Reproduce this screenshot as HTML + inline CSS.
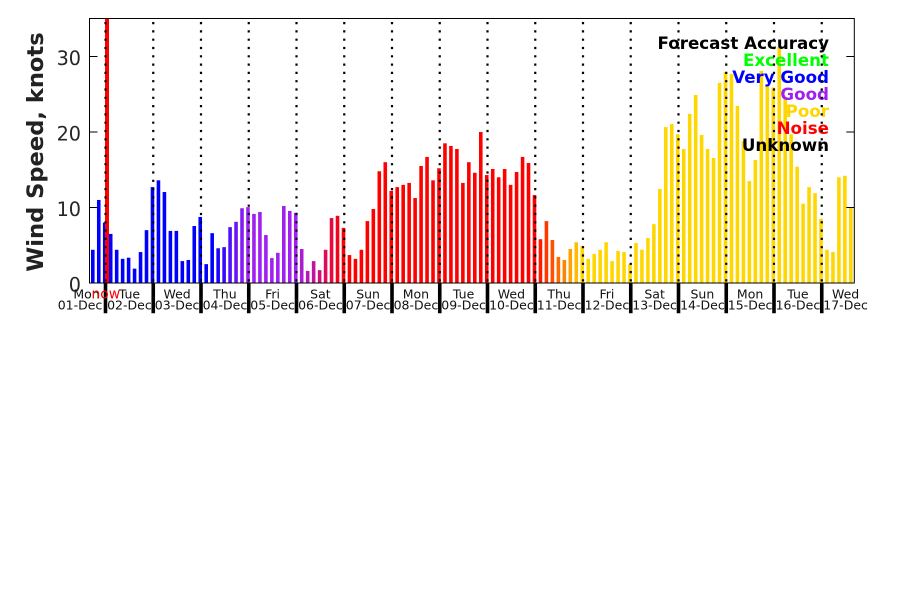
<!DOCTYPE html>
<html><head><meta charset="utf-8"><style>
html,body{margin:0;padding:0;background:#fff;}
svg{display:block;}
text{font-family:"DejaVu Sans","Liberation Sans",sans-serif;}
</style></head><body>
<svg width="900" height="600" viewBox="0 0 900 600" xmlns="http://www.w3.org/2000/svg">
<rect x="0" y="0" width="900" height="600" fill="#fff"/>
<g transform="translate(91,283) scale(5.969,-7.55)">
<g fill="#0000ff">
<rect x="0" y="0" width="0.6" height="4.4"/><rect x="1" y="0" width="0.6" height="11.0"/><rect x="2" y="0" width="0.6" height="8.0"/><rect x="3" y="0" width="0.6" height="6.5"/><rect x="4" y="0" width="0.6" height="4.4"/><rect x="5" y="0" width="0.6" height="3.2"/><rect x="6" y="0" width="0.6" height="3.35"/><rect x="7" y="0" width="0.6" height="1.9"/><rect x="8" y="0" width="0.6" height="4.1"/><rect x="9" y="0" width="0.6" height="7.0"/><rect x="10" y="0" width="0.6" height="12.7"/><rect x="11" y="0" width="0.6" height="13.6"/><rect x="12" y="0" width="0.6" height="12.05"/><rect x="13" y="0" width="0.6" height="6.9"/><rect x="14" y="0" width="0.6" height="6.9"/><rect x="15" y="0" width="0.6" height="2.9"/><rect x="16" y="0" width="0.6" height="3.05"/><rect x="17" y="0" width="0.6" height="7.55"/><rect x="18" y="0" width="0.6" height="8.75"/><rect x="19" y="0" width="0.6" height="2.5"/><rect x="20" y="0" width="0.6" height="6.6"/>
</g>
<rect x="21" y="0" width="0.6" height="4.6" fill="#1b05fc"/>
<rect x="22" y="0" width="0.6" height="4.75" fill="#350bfa"/>
<rect x="23" y="0" width="0.6" height="7.4" fill="#5010f8"/>
<rect x="24" y="0" width="0.6" height="8.1" fill="#6b15f5"/>
<rect x="25" y="0" width="0.6" height="9.9" fill="#851bf3"/>
<g fill="#a020f0">
<rect x="26" y="0" width="0.6" height="10.05"/><rect x="27" y="0" width="0.6" height="9.15"/><rect x="28" y="0" width="0.6" height="9.4"/><rect x="29" y="0" width="0.6" height="6.35"/><rect x="30" y="0" width="0.6" height="3.3"/><rect x="31" y="0" width="0.6" height="4.0"/><rect x="32" y="0" width="0.6" height="10.2"/><rect x="33" y="0" width="0.6" height="9.55"/><rect x="34" y="0" width="0.6" height="9.3"/>
</g>
<rect x="35" y="0" width="0.6" height="4.5" fill="#ac1cd2"/>
<rect x="36" y="0" width="0.6" height="1.6" fill="#b818b4"/>
<rect x="37" y="0" width="0.6" height="2.9" fill="#c41496"/>
<rect x="38" y="0" width="0.6" height="1.7" fill="#d01078"/>
<rect x="39" y="0" width="0.6" height="4.4" fill="#db0c5a"/>
<rect x="40" y="0" width="0.6" height="8.6" fill="#e7083c"/>
<rect x="41" y="0" width="0.6" height="8.9" fill="#f3041e"/>
<g fill="#ff0000">
<rect x="42" y="0" width="0.6" height="7.3"/><rect x="43" y="0" width="0.6" height="3.7"/><rect x="44" y="0" width="0.6" height="3.2"/><rect x="45" y="0" width="0.6" height="4.4"/><rect x="46" y="0" width="0.6" height="8.2"/><rect x="47" y="0" width="0.6" height="9.8"/><rect x="48" y="0" width="0.6" height="14.8"/><rect x="49" y="0" width="0.6" height="16.0"/><rect x="50" y="0" width="0.6" height="12.2"/><rect x="51" y="0" width="0.6" height="12.7"/><rect x="52" y="0" width="0.6" height="13.0"/><rect x="53" y="0" width="0.6" height="13.25"/><rect x="54" y="0" width="0.6" height="11.25"/><rect x="55" y="0" width="0.6" height="15.5"/><rect x="56" y="0" width="0.6" height="16.7"/><rect x="57" y="0" width="0.6" height="13.6"/><rect x="58" y="0" width="0.6" height="15.2"/><rect x="59" y="0" width="0.6" height="18.5"/><rect x="60" y="0" width="0.6" height="18.15"/><rect x="61" y="0" width="0.6" height="17.75"/><rect x="62" y="0" width="0.6" height="13.25"/><rect x="63" y="0" width="0.6" height="16.0"/><rect x="64" y="0" width="0.6" height="14.6"/><rect x="65" y="0" width="0.6" height="20.0"/><rect x="66" y="0" width="0.6" height="14.3"/><rect x="67" y="0" width="0.6" height="15.1"/><rect x="68" y="0" width="0.6" height="14.0"/><rect x="69" y="0" width="0.6" height="15.1"/><rect x="70" y="0" width="0.6" height="13.0"/><rect x="71" y="0" width="0.6" height="14.7"/><rect x="72" y="0" width="0.6" height="16.7"/><rect x="73" y="0" width="0.6" height="15.9"/><rect x="74" y="0" width="0.6" height="11.65"/>
</g>
<rect x="75" y="0" width="0.6" height="5.8" fill="#ff1b00"/>
<rect x="76" y="0" width="0.6" height="8.2" fill="#ff3600"/>
<rect x="77" y="0" width="0.6" height="5.7" fill="#ff5100"/>
<rect x="78" y="0" width="0.6" height="3.45" fill="#ff6c00"/>
<rect x="79" y="0" width="0.6" height="3.05" fill="#ff8600"/>
<rect x="80" y="0" width="0.6" height="4.5" fill="#ffa100"/>
<rect x="81" y="0" width="0.6" height="5.4" fill="#ffbc00"/>
<g fill="#ffd700">
<rect x="82" y="0" width="0.6" height="4.9"/><rect x="83" y="0" width="0.6" height="3.2"/><rect x="84" y="0" width="0.6" height="3.85"/><rect x="85" y="0" width="0.6" height="4.4"/><rect x="86" y="0" width="0.6" height="5.4"/><rect x="87" y="0" width="0.6" height="2.9"/><rect x="88" y="0" width="0.6" height="4.25"/><rect x="89" y="0" width="0.6" height="4.1"/><rect x="90" y="0" width="0.6" height="2.5"/><rect x="91" y="0" width="0.6" height="5.3"/><rect x="92" y="0" width="0.6" height="4.4"/><rect x="93" y="0" width="0.6" height="5.95"/><rect x="94" y="0" width="0.6" height="7.8"/><rect x="95" y="0" width="0.6" height="12.45"/><rect x="96" y="0" width="0.6" height="20.65"/><rect x="97" y="0" width="0.6" height="21.05"/><rect x="98" y="0" width="0.6" height="19.7"/><rect x="99" y="0" width="0.6" height="17.75"/><rect x="100" y="0" width="0.6" height="22.4"/><rect x="101" y="0" width="0.6" height="24.9"/><rect x="102" y="0" width="0.6" height="19.6"/><rect x="103" y="0" width="0.6" height="17.75"/><rect x="104" y="0" width="0.6" height="16.55"/><rect x="105" y="0" width="0.6" height="26.5"/><rect x="106" y="0" width="0.6" height="27.95"/><rect x="107" y="0" width="0.6" height="27.7"/><rect x="108" y="0" width="0.6" height="23.45"/><rect x="109" y="0" width="0.6" height="18.8"/><rect x="110" y="0" width="0.6" height="13.5"/><rect x="111" y="0" width="0.6" height="16.3"/><rect x="112" y="0" width="0.6" height="28.1"/><rect x="113" y="0" width="0.6" height="26.1"/><rect x="114" y="0" width="0.6" height="25.9"/><rect x="115" y="0" width="0.6" height="31.3"/><rect x="116" y="0" width="0.6" height="24.5"/><rect x="117" y="0" width="0.6" height="19.7"/><rect x="118" y="0" width="0.6" height="15.4"/><rect x="119" y="0" width="0.6" height="10.5"/><rect x="120" y="0" width="0.6" height="12.7"/><rect x="121" y="0" width="0.6" height="11.9"/><rect x="122" y="0" width="0.6" height="8.5"/><rect x="123" y="0" width="0.6" height="4.4"/><rect x="124" y="0" width="0.6" height="4.1"/><rect x="125" y="0" width="0.6" height="14.0"/><rect x="126" y="0" width="0.6" height="14.2"/><rect x="127" y="0" width="0.6" height="10.0"/>
</g>
</g>

<!-- now line -->
<rect x="105" y="18" width="4" height="265" fill="#ff0000"/>

<!-- legend -->
<g font-weight="bold" font-size="16.7" text-anchor="end">
<text x="829" y="49" fill="#000">Forecast Accuracy</text>
<text x="829" y="66" fill="#00ff00">Excellent</text>
<text x="829" y="83" fill="#0000ff">Very Good</text>
<text x="829" y="100" fill="#a020f0">Good</text>
<text x="829" y="117" fill="#ffd700">Poor</text>
<text x="829" y="134" fill="#ff0000">Noise</text>
<text x="829" y="151" fill="#000">Unknown</text>
</g>

<!-- dotted day lines -->
<path d="M105.5 22V283M153.25 22V283M201 22V283M248.75 22V283M296.5 22V283M344.25 22V283M392 22V283M439.75 22V283M487.5 22V283M535.25 22V283M583 22V283M630.75 22V283M678.5 22V283M726.25 22V283M774 22V283M821.75 22V283" stroke="#000" stroke-width="2.2" stroke-dasharray="2.2 6.1" fill="none"/>

<!-- axes frame -->
<rect x="89.5" y="18.5" width="764.8" height="264.5" fill="none" stroke="#000" stroke-width="1"/>
<!-- y ticks -->
<path d="M89.5 56.5H97.5M89.5 132H97.5M89.5 207.5H97.5M854.3 56.5H846.3M854.3 132H846.3M854.3 207.5H846.3" stroke="#000" stroke-width="1"/>

<!-- thick day ticks below axis -->
<path d="M105.5 283V313.3M153.25 283V313.3M201 283V313.3M248.75 283V313.3M296.5 283V313.3M344.25 283V313.3M392 283V313.3M439.75 283V313.3M487.5 283V313.3M535.25 283V313.3M583 283V313.3M630.75 283V313.3M678.5 283V313.3M726.25 283V313.3M774 283V313.3M821.75 283V313.3" stroke="#000" stroke-width="3.6" fill="none"/>

<!-- y tick labels -->
<g font-size="19.2" fill="#262626" text-anchor="end">
<text x="81" y="65.1">30</text>
<text x="81" y="140.6">20</text>
<text x="81" y="216.1">10</text>
<text x="81" y="291.6">0</text>
</g>

<!-- y axis label -->
<text transform="translate(43,152) rotate(-90)" text-anchor="middle" font-weight="bold" font-size="22.6" fill="#222">Wind Speed, knots</text>

<!-- x labels -->
<g font-size="12.5" fill="#111" text-anchor="middle">
<text x="86.5" y="298.3">Mon</text><text x="80" y="309.3">01-Dec</text>
<text x="129.4" y="298.3">Tue</text><text x="129.4" y="309.3">02-Dec</text>
<text x="177.1" y="298.3">Wed</text><text x="177.1" y="309.3">03-Dec</text>
<text x="224.9" y="298.3">Thu</text><text x="224.9" y="309.3">04-Dec</text>
<text x="272.6" y="298.3">Fri</text><text x="272.6" y="309.3">05-Dec</text>
<text x="320.4" y="298.3">Sat</text><text x="320.4" y="309.3">06-Dec</text>
<text x="368.1" y="298.3">Sun</text><text x="368.1" y="309.3">07-Dec</text>
<text x="415.9" y="298.3">Mon</text><text x="415.9" y="309.3">08-Dec</text>
<text x="463.6" y="298.3">Tue</text><text x="463.6" y="309.3">09-Dec</text>
<text x="511.4" y="298.3">Wed</text><text x="511.4" y="309.3">10-Dec</text>
<text x="559.1" y="298.3">Thu</text><text x="559.1" y="309.3">11-Dec</text>
<text x="606.9" y="298.3">Fri</text><text x="606.9" y="309.3">12-Dec</text>
<text x="654.6" y="298.3">Sat</text><text x="654.6" y="309.3">13-Dec</text>
<text x="702.4" y="298.3">Sun</text><text x="702.4" y="309.3">14-Dec</text>
<text x="750.1" y="298.3">Mon</text><text x="750.1" y="309.3">15-Dec</text>
<text x="797.9" y="298.3">Tue</text><text x="797.9" y="309.3">16-Dec</text>
<text x="845.6" y="298.3">Wed</text><text x="845.6" y="309.3">17-Dec</text>
</g>
<text x="105.8" y="298.3" font-size="13.9" fill="#ff0000" text-anchor="middle">now</text>
</svg>
</body></html>
